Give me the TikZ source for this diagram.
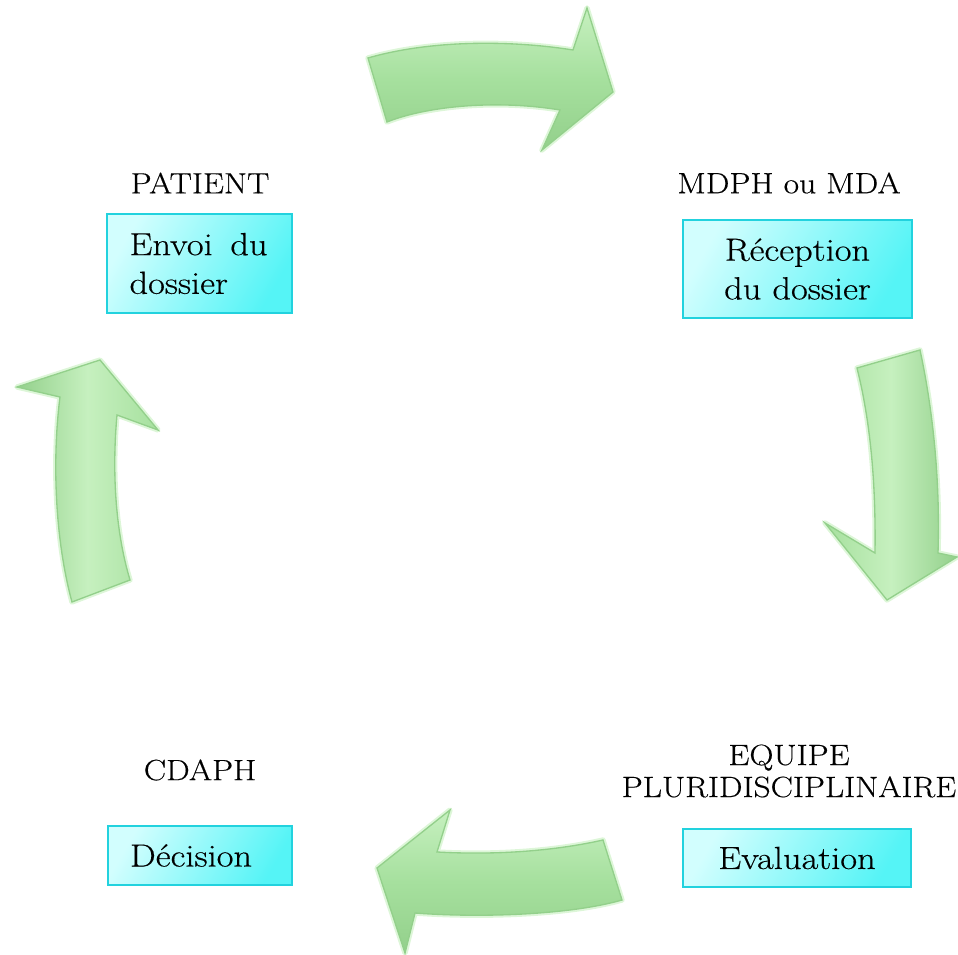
\documentclass[tikz,border=0pt]{standalone}
\usepackage{fontspec}
\setmainfont{Latin Modern Roman}[FakeStretch=1.14,FakeBold=0.4]
\usetikzlibrary{shadings}
\definecolor{boxline}{HTML}{22D2DE}
\definecolor{boxlight}{HTML}{D2FEFE}
\definecolor{boxdark}{HTML}{55F4F6}
\definecolor{grA}{HTML}{C6F0BF}
\definecolor{grB}{HTML}{A6E09E}
\definecolor{grC}{HTML}{93D08B}
\definecolor{grGlow}{HTML}{DDF6D8}
\tikzset{
  lbl/.style={inner sep=0pt, font=\fontsize{22}{24}\selectfont, align=center},
  box/.style={draw=boxline, line width=1.5pt, inner sep=0pt,
    left color=boxlight, right color=boxdark, shading angle=60,
    font=\fontsize{24}{29}\selectfont},
  garrow/.style={draw=grC, line width=1pt, line join=miter},
  glow/.style={draw=grGlow, line width=4pt, line join=round},
}
\begin{document}
\begin{tikzpicture}[x=0.75pt,y=-0.75pt]
\useasboundingbox (0,0) rectangle (958,955);

% ---------- arrows ----------
% top arrow (PATIENT -> MDPH)
\path[glow] (368,58) .. controls (430,40) and (510,40) .. (573,50) -- (587,8) -- (613,92) -- (542,150) -- (560,110) .. controls (500,100) and (430,105) .. (387,122) -- cycle;
\path[garrow, top color=grA, bottom color=grC, middle color=grB]
  (368,58) .. controls (430,40) and (510,40) .. (573,50) -- (587,8) -- (613,92) -- (542,150) -- (560,110) .. controls (500,100) and (430,105) .. (387,122) -- cycle;

% right arrow (MDPH -> EQUIPE)
\path[glow] (857,368) -- (920,350) .. controls (935,420) and (940,490) .. (938,553) -- (957,557) -- (887,600) -- (825,523) -- (875,553) .. controls (876,480) and (870,420) .. (857,368) -- cycle;
\path[garrow, left color=grB, right color=grC, middle color=grA]
  (857,368) -- (920,350) .. controls (935,420) and (940,490) .. (938,553) -- (957,557) -- (887,600) -- (825,523) -- (875,553) .. controls (876,480) and (870,420) .. (857,368) -- cycle;

% bottom arrow (EQUIPE -> CDAPH)
\path[glow] (603,840) .. controls (550,852) and (490,855) .. (437,852) -- (450,810) -- (377,868) -- (405,953) -- (415,913) .. controls (480,918) and (570,915) .. (622,900) -- cycle;
\path[garrow, top color=grA, bottom color=grC, middle color=grB]
  (603,840) .. controls (550,852) and (490,855) .. (437,852) -- (450,810) -- (377,868) -- (405,953) -- (415,913) .. controls (480,918) and (570,915) .. (622,900) -- cycle;

% left arrow (CDAPH -> PATIENT)
\path[glow] (72,602) .. controls (55,540) and (52,460) .. (60,397) -- (17,387) -- (100,360) -- (158,430) -- (117,415) .. controls (112,470) and (115,530) .. (130,580) -- cycle;
\path[garrow, left color=grC, right color=grB, middle color=grA]
  (72,602) .. controls (55,540) and (52,460) .. (60,397) -- (17,387) -- (100,360) -- (158,430) -- (117,415) .. controls (112,470) and (115,530) .. (130,580) -- cycle;

% ---------- labels ----------
\node[lbl] (lpat) at (200,183) {PATIENT};
\node[lbl] (lmdph) at (789,183) {MDPH ou MDA};
\node[lbl] (lcdaph) at (200,770) {CDAPH};
\node[lbl] (lequipe) at (789,771) {EQUIPE\\PLURIDISCIPLINAIRE};

% ---------- boxes ----------
\node[box, minimum width=138.75pt, minimum height=74.25pt, text width=105pt, align=left] (bpat) at (199.5,263.5) {Envoi\hspace{0.55em}du\\dossier};
\node[box, minimum width=171.75pt, minimum height=73.5pt, align=center] (bmdph) at (797.5,269) {Réception\\du dossier};
\node[box, minimum width=138pt, minimum height=44.25pt, text width=105pt, align=left] (bcdaph) at (200,855.5) {Décision};
\node[box, minimum width=171pt, minimum height=43.5pt, align=center] (beval) at (797,858) {Evaluation};
\end{tikzpicture}
\end{document}
